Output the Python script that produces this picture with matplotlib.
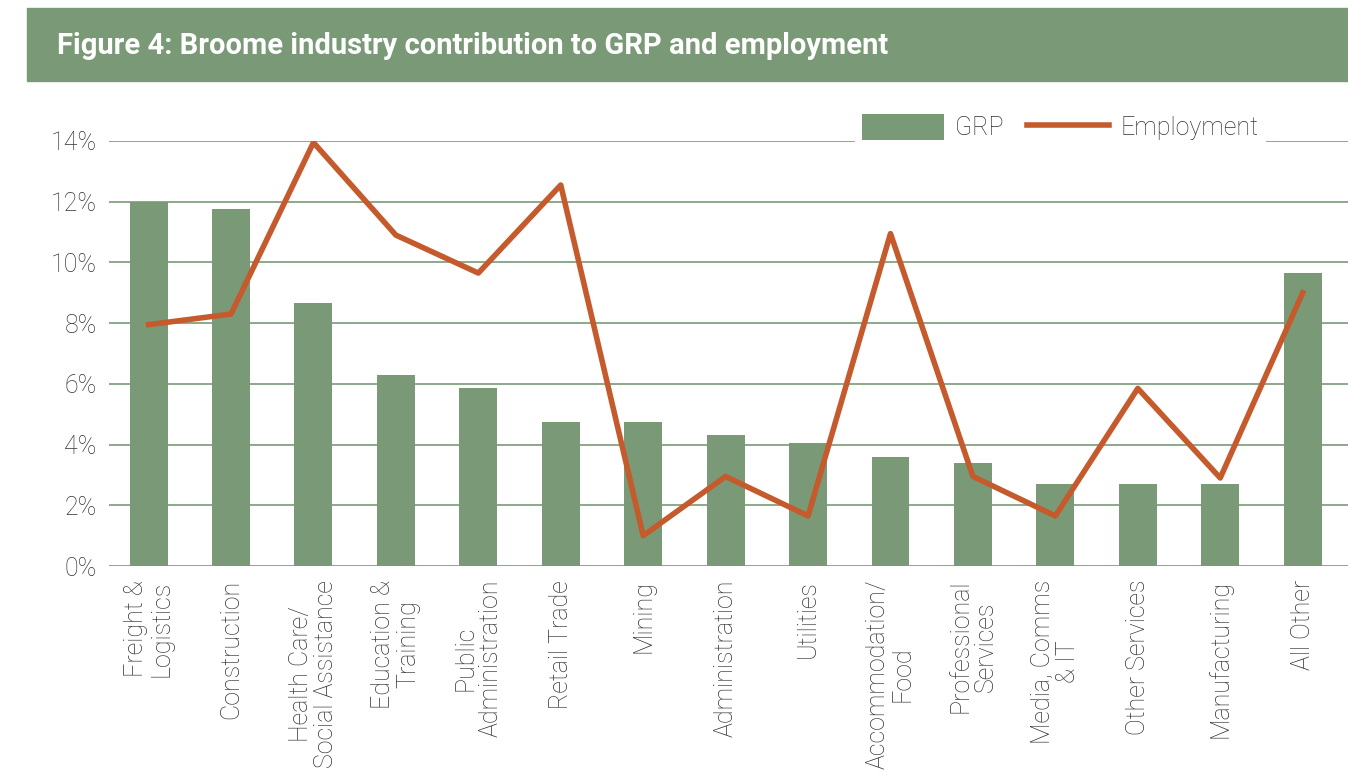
import numpy as np
import matplotlib
matplotlib.use('Agg')
import matplotlib.pyplot as plt
from matplotlib.patches import Rectangle

plt.rcParams['font.family'] = ['Roboto', 'DejaVu Sans']

# %% data
industries = ['Freight &\nLogistics', 'Construction', 'Health Care/\nSocial Assistance',
              'Education &\nTraining', 'Public\nAdministration', 'Retail Trade', 'Mining',
              'Administration', 'Utilities', 'Accommodation/\nFood', 'Professional\nServices',
              'Media, Comms\n& IT', 'Other Services', 'Manufacturing', 'All Other']
grp = [12.0, 11.75, 8.65, 6.3, 5.85, 4.75, 4.75, 4.3, 4.05, 3.6, 3.4, 2.7, 2.7, 2.7, 9.65]
employment = [7.95, 8.3, 13.95, 10.9, 9.65, 12.55, 1.0, 2.95, 1.65, 10.95, 2.95, 1.65, 5.85, 2.9, 9.0]
yticks = [0, 2, 4, 6, 8, 10, 12, 14]

green = '#7a9a77'
orange = '#c55a2c'
textc = '#333333'

fig = plt.figure(figsize=(13.48, 7.73), dpi=100)

# title bar
fig.patches.append(Rectangle((27/1348, 1-81/773), 1-27/1348, 73/773,
                             transform=fig.transFigure, color=green, zorder=0))
fig.text(57/1348, 1-46/773, 'Figure 4: Broome industry contribution to GRP and employment',
         color='white', fontsize=21, fontweight='bold', va='center', ha='left')

ax = fig.add_axes([109/1348, 1-566/773, (1348-109)/1348, (566-141)/773])
x = np.arange(len(industries))
bars = ax.bar(x, grp, width=0.46, color=green, label='GRP', zorder=2)
line, = ax.plot(x, employment, color=orange, lw=4, label='Employment', zorder=3)

ax.set_xlim(-0.48, len(industries) - 0.45)
ax.set_ylim(0, 14)
ax.set_yticks(yticks)
ax.set_yticklabels([f'{t}%' for t in yticks], fontsize=18, color=textc, fontweight='light')
ax.yaxis.grid(True, color=green, lw=1.2, zorder=1)
ax.tick_params(axis='y', length=0, pad=9)
ax.tick_params(axis='x', length=0, pad=10)
ax.set_xticks(x)
ax.set_xticklabels(industries, rotation=90, fontsize=18, color=textc, fontweight='light',
                   ha='center', va='top', multialignment='center', linespacing=1.05)
for s in ax.spines.values():
    s.set_visible(False)

leg = fig.legend([bars, line], ['GRP', 'Employment'], loc='center',
                 bbox_to_anchor=(1060/1348, 1-127/773), ncol=2, frameon=True,
                 prop={'size': 18, 'weight': 'light'}, handlelength=3.3, handleheight=1.2,
                 handletextpad=0.45, columnspacing=0.9, borderpad=0.25, fancybox=False)
leg.get_frame().set_edgecolor('white')
leg.get_frame().set_facecolor('white')
leg.get_frame().set_alpha(1)
for t in leg.get_texts():
    t.set_color(textc)

fig.savefig('out.png', dpi=100)
